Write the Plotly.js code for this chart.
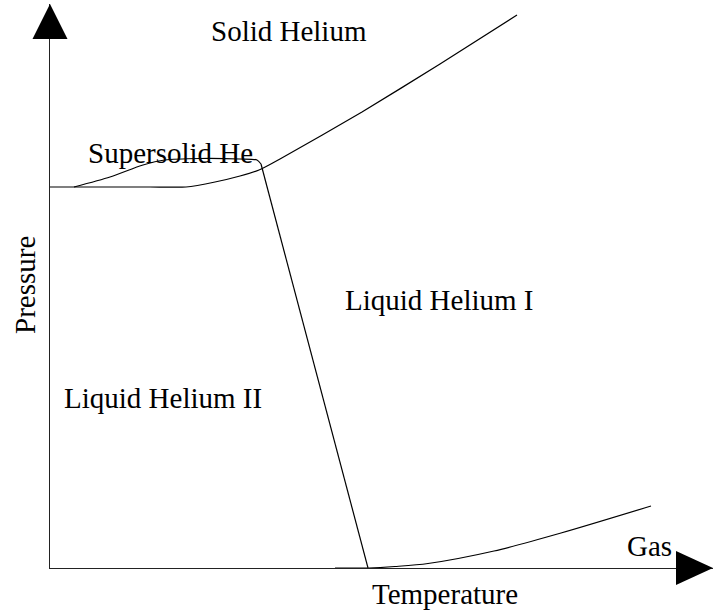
<!DOCTYPE html>
<html>
<head>
<meta charset="utf-8">
<script src="https://cdn.plot.ly/plotly-3.0.1.min.js"></script>
<style>html,body{margin:0;padding:0;background:#fff;}#chart{width:723px;height:613px;}</style>
</head>
<body>
<div id="chart"></div>
<script>
// Phase boundaries (Temperature, Pressure in arbitrary units)
const meltT = [0, 100, 136, 165, 190, 209, 230, 312, 390, 467];
const meltP = [381, 381, 381, 386, 392, 398, 409, 456, 504, 553];

const supersolidT = [24, 60, 93, 115, 150, 190, 207, 211];
const supersolidP = [381, 391, 403, 408, 409.5, 409, 408, 404];

const lambdaT = [211, 318];
const lambdaP = [404, 0];

const gasT = [285, 319, 345, 378, 444, 511, 601];
const gasP = [0, 0, 1.5, 4.5, 17, 35, 62];

// Region labels
const regionNames = ["Solid Helium", "Supersolid He", "Liquid Helium I", "Liquid Helium II", "Gas"];
const regionT = [239, 120, 389, 112.5, 599.5];
const regionP = [537, 415, 268, 170, 22];

const xLabel = "Temperature";
const yLabel = "Pressure";

const xRange = [0, 663];
const yRange = [0, 564];
const xArrowAt = 626;
const yArrowAt = 529;

const mk = (x, y, shape, smooth) => ({x: x, y: y, type: "scatter", mode: "lines",
  line: {color: "black", width: 1.2, shape: shape, smoothing: smooth},
  hoverinfo: "skip", cliponaxis: false});

const traces = [
  mk(meltT, meltP, "spline", 0.5),
  mk(supersolidT, supersolidP, "spline", 0.7),
  mk(lambdaT, lambdaP, "linear", 0),
  mk(gasT, gasP, "spline", 0.8)
];

const font = {family: "Liberation Serif, Times New Roman, serif", size: 29, color: "black"};
const fx = v => (v - xRange[0]) / (xRange[1] - xRange[0]);
const fy = v => (v - yRange[0]) / (yRange[1] - yRange[0]);

const annotations = regionNames.map((t, i) => ({
  text: t, x: regionT[i], y: regionP[i], xref: "x", yref: "y",
  showarrow: false, font: font, xanchor: "center", yanchor: "middle"
}));
annotations.push({text: xLabel, x: fx(394.5), y: fy(-26), xref: "paper", yref: "paper",
  showarrow: false, font: font, xanchor: "center", yanchor: "middle"});
annotations.push({text: yLabel, x: fx(-25), y: fy(283), xref: "paper", yref: "paper",
  showarrow: false, font: font, xanchor: "center", yanchor: "middle", textangle: -90});

const shapes = [
  {type: "path", xref: "paper", yref: "paper", xsizemode: "pixel", ysizemode: "pixel",
   xanchor: fx(0), yanchor: fy(yArrowAt), path: "M-17.5,0 L17.5,0 L0,35 Z",
   fillcolor: "black", line: {width: 0}},
  {type: "path", xref: "paper", yref: "paper", xsizemode: "pixel", ysizemode: "pixel",
   xanchor: fx(xArrowAt), yanchor: fy(0), path: "M0,-17 L0,17 L37,0 Z",
   fillcolor: "black", line: {width: 0}}
];

const axisCommon = {showgrid: false, zeroline: false, showticklabels: false, ticks: "",
  showline: true, linecolor: "#222", linewidth: 1.3, fixedrange: true};

const layout = {
  width: 723, height: 613,
  margin: {l: 50, r: 10, t: 4, b: 45, pad: 0},
  paper_bgcolor: "white", plot_bgcolor: "white",
  showlegend: false,
  xaxis: Object.assign({range: xRange}, axisCommon),
  yaxis: Object.assign({range: yRange}, axisCommon),
  annotations: annotations,
  shapes: shapes
};

Plotly.newPlot("chart", traces, layout, {displayModeBar: false, staticPlot: true});
</script>
</body>
</html>
